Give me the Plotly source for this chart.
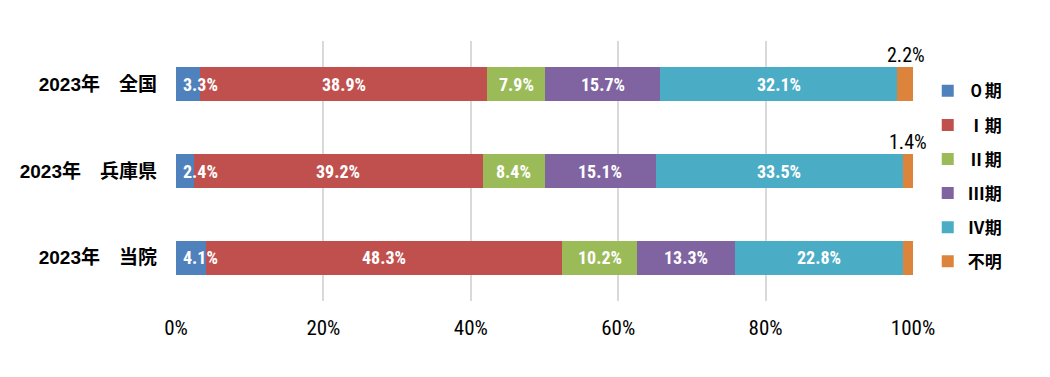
import plotly.graph_objects as go

categories = ["2023年　全国", "2023年　兵庫県", "2023年　当院"]
series_names = ["０期", "Ⅰ期", "Ⅱ期", "Ⅲ期", "Ⅳ期", "不明"]
stage0 = [3.3, 2.4, 4.1]
stage1 = [38.9, 39.2, 48.3]
stage2 = [7.9, 8.4, 10.2]
stage3 = [15.7, 15.1, 13.3]
stage4 = [32.1, 33.5, 22.8]
unknown = [2.2, 1.4, 1.3]
unknown_label_shown = [True, True, False]
colors = ["#4F81BD", "#C0504D", "#9BBB59", "#8064A2", "#4BACC6", "#DD843C"]

series_values = [stage0, stage1, stage2, stage3, stage4, unknown]

NARROW = "Liberation Sans Narrow, Arial Narrow, Roboto Condensed, Liberation Sans, sans-serif"
CJK = "Liberation Sans, Noto Sans CJK JP, sans-serif"

fig = go.Figure()
for i, (name, vals) in enumerate(zip(series_names, series_values)):
    fig.add_trace(go.Bar(
        y=categories, x=vals, name=name, orientation="h",
        marker=dict(color=colors[i], line=dict(width=0)),
        legendgroup=name,
        hovertemplate="%{y}<br>" + name + ": %{x}%<extra></extra>",
    ))

annotations = []
for ci, cat in enumerate(categories):
    cum = 0.0
    for si, vals in enumerate(series_values):
        v = vals[ci]
        start = cum
        cum += v
        if si < len(series_values) - 1:
            if v < 6:
                annotations.append(dict(
                    x=start, y=cat, xref="x", yref="y", text=f"{v}%",
                    showarrow=False, xanchor="left", xshift=5,
                    font=dict(family=NARROW, size=18, color="white", weight="bold")))
            else:
                annotations.append(dict(
                    x=start + v / 2, y=cat, xref="x", yref="y", text=f"{v}%",
                    showarrow=False, xanchor="center",
                    font=dict(family=NARROW, size=18, color="white", weight="bold")))
        elif unknown_label_shown[ci]:
            annotations.append(dict(
                x=start + v / 2, y=cat, xref="x", yref="y", text=f"{v}%",
                showarrow=False, xanchor="center", yanchor="bottom", yshift=15,
                font=dict(family=NARROW, size=20, color="black")))

fig.update_layout(
    barmode="stack",
    barnorm="percent",
    bargap=0.61,
    width=1050, height=377,
    margin=dict(l=168, r=145, t=33, b=84),
    plot_bgcolor="white", paper_bgcolor="white",
    annotations=annotations,
    legend=dict(
        x=1.02, y=0.876, xanchor="left", yanchor="top",
        traceorder="grouped", tracegroupgap=9,
        font=dict(family="Noto Sans CJK JP, sans-serif", size=17, color="black", weight="bold"),
        itemwidth=30,
    ),
    xaxis=dict(
        range=[0, 100], dtick=20, ticksuffix="%",
        showgrid=True, gridcolor="#D9D9D9", gridwidth=2,
        zeroline=False, showline=False,
        tickfont=dict(family=NARROW, size=21, color="black"),
        ticklabelstandoff=12,
        automargin=False,
    ),
    yaxis=dict(
        categoryorder="array", categoryarray=categories, autorange="reversed",
        showgrid=False, zeroline=False, showline=False,
        tickfont=dict(family=CJK, size=19, color="black", weight="bold"),
        ticklabelstandoff=18,
        automargin=False,
    ),
)

fig.write_html("out.html")
